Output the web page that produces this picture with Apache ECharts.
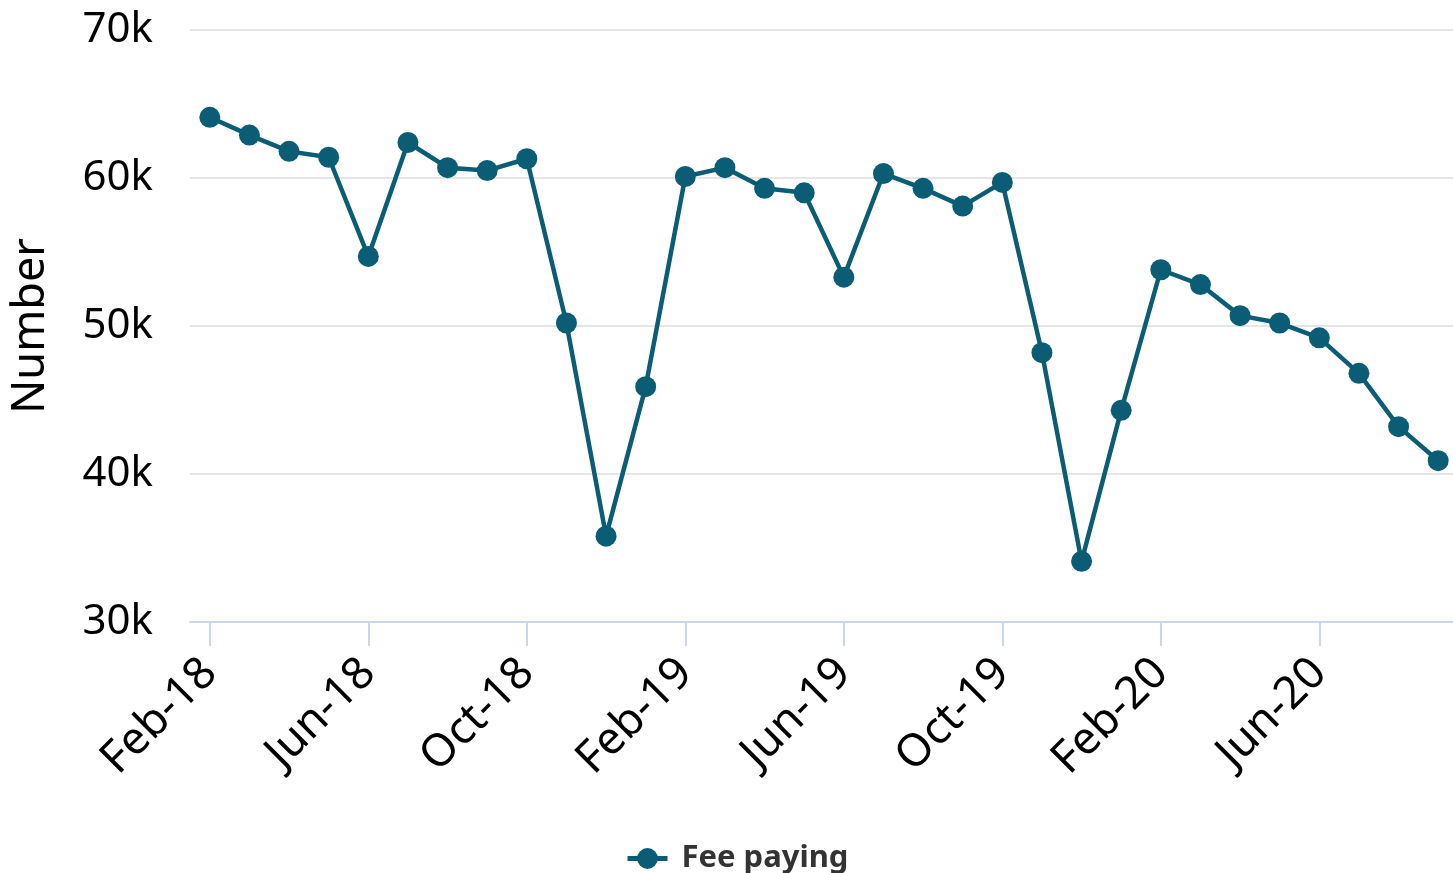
<!DOCTYPE html>
<html><head><meta charset="utf-8">
<script src="https://cdn.jsdelivr.net/npm/echarts@6/dist/echarts.min.js"></script>
<style>html,body{margin:0;padding:0;background:#fff}#c{width:1453px;height:873px}</style>
</head><body><div id="c"></div>
<script>
const categories = ["Feb-18","Mar-18","Apr-18","May-18","Jun-18","Jul-18","Aug-18","Sep-18","Oct-18","Nov-18","Dec-18","Jan-19",
  "Feb-19","Mar-19","Apr-19","May-19","Jun-19","Jul-19","Aug-19","Sep-19","Oct-19","Nov-19","Dec-19","Jan-20",
  "Feb-20","Mar-20","Apr-20","May-20","Jun-20","Jul-20","Aug-20","Sep-20"];
const feePaying = [64100,62900,61800,61400,54700,62400,60700,60500,61300,50200,35800,45900,
  60100,60700,59300,59000,53300,60300,59300,58100,59700,48200,34100,44300,
  53800,52800,50700,50200,49200,46800,43200,40900];
const yTicks = [30000,40000,50000,60000,70000];

const chart = echarts.init(document.getElementById('c'));
chart.setOption({
  animation:false,
  grid:{left:190,width:1268,top:30,bottom:251,containLabel:false,outerBoundsMode:'none'},
  legend:{top:838,left:620,itemWidth:40,itemHeight:26,itemGap:10,
    lineStyle:{width:5},
    textStyle:{fontFamily:'Noto Sans',fontSize:31,fontWeight:'bold',color:'#333',padding:[0,0,0,9]},
    data:['Fee paying']},
  xAxis:{type:'category',data:categories,boundaryGap:true,
    axisLine:{show:true,lineStyle:{color:'#ccd6eb',width:2}},
    axisTick:{show:true,alignWithLabel:true,interval:3,length:24,lineStyle:{color:'#ccd6eb',width:2}},
    axisLabel:{show:true,interval:3,rotate:45,margin:44,fontFamily:'Noto Sans',fontSize:45,color:'#000'}},
  yAxis:{type:'value',min:yTicks[0],max:yTicks[yTicks.length-1],interval:10000,
    name:'Number',nameLocation:'middle',nameGap:136,nameRotate:90,
    nameTextStyle:{fontFamily:'Noto Sans',fontSize:45,color:'#000'},
    axisLabel:{margin:37,fontFamily:'Noto Sans',fontSize:42,color:'#000',formatter:v=>(v/1000)+'k'},
    splitLine:{lineStyle:{color:'#e6e6e6',width:2}},
    axisLine:{show:false},axisTick:{show:false}},
  series:[{name:'Fee paying',type:'line',data:feePaying,symbol:'circle',symbolSize:21,
    itemStyle:{color:'#0b5d75'},lineStyle:{color:'#0b5d75',width:4.5}}]
});
</script></body></html>
